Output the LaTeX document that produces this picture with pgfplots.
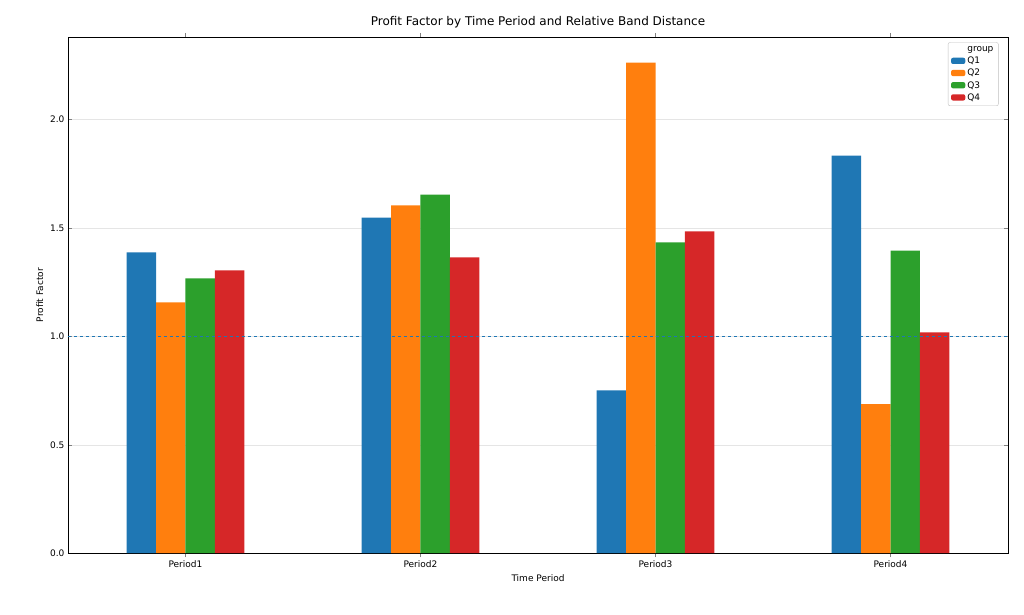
\documentclass[border=0pt]{standalone}
\usepackage{pgfplots}
\pgfplotsset{compat=1.18}
\usepackage{fontspec}
\setmainfont{DejaVu Sans}
\definecolor{c1}{HTML}{1F77B4}
\definecolor{c2}{HTML}{FF7F0E}
\definecolor{c3}{HTML}{2CA02C}
\definecolor{c4}{HTML}{D62728}
\begin{document}
\begin{tikzpicture}
\begin{axis}[
  scale only axis, width=940pt, height=516pt,
  ybar=0pt, bar width=29.4pt,
  xmin=-0.5, xmax=3.5, ymin=0, ymax=2.38,
  xtick={0,1,2,3}, xticklabels={Period1,Period2,Period3,Period4},
  ytick={0,0.5,1,1.5,2},
  yticklabel style={/pgf/number format/fixed,/pgf/number format/fixed zerofill,/pgf/number format/precision=1},
  /pgf/number format/assume math mode=true,
  ymajorgrids, grid style={gray!20},
  tick label style={font=\small},
  xlabel={Time Period}, ylabel={Profit Factor},
  label style={font=\small},
  title={Profit Factor by Time Period and Relative Band Distance},
  title style={font=\large},
  legend style={at={(0.99,0.99)},anchor=north east,font=\small,draw=gray!50,rounded corners=2pt,cells={anchor=west}},
  legend image code/.code={\draw[#1,draw=none] (0cm,-0.1cm) rectangle (0.5cm,0.12cm);},
  clip=false,
]
\addlegendimage{empty legend}\addlegendentry{\hspace{-0.6cm}\hfill group}
\addplot[fill=c1,draw=none] coordinates {(0,1.387) (1,1.548) (2,0.751) (3,1.834)};
\addplot[fill=c2,draw=none] coordinates {(0,1.157) (1,1.604) (2,2.263) (3,0.687)};
\addplot[fill=c3,draw=none] coordinates {(0,1.267) (1,1.654) (2,1.433) (3,1.396)};
\addplot[fill=c4,draw=none] coordinates {(0,1.304) (1,1.364) (2,1.484) (3,1.018)};
\legend{group,Q1,Q2,Q3,Q4}
\draw[c1,thick,dashed] (rel axis cs:0,0) ++(0,0) (axis cs:-0.5,1) -- (axis cs:3.5,1);
\path (rel axis cs:-0.0723,-0.118) (rel axis cs:1.017,1.072);
\end{axis}
\end{tikzpicture}
\end{document}
